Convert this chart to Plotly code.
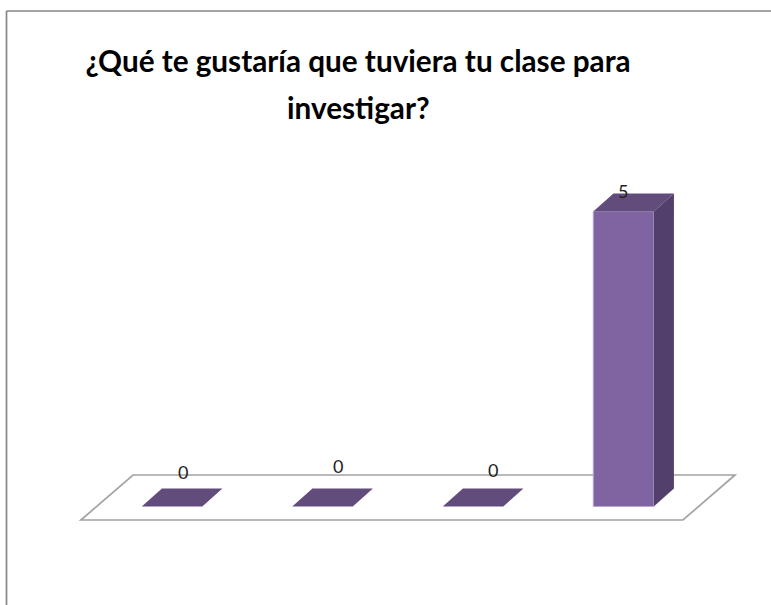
import plotly.graph_objects as go

# Data
categories = [0, 1, 2, 3]
values = [0, 0, 0, 5]
title_lines = ["¿Qué te gustaría que tuviera tu clase para", "investigar?"]

# Styling / pseudo-3D geometry (in axis units)
BAR_W = 0.402
DEPTH_X = 0.134
DEPTH_Y = 0.305
FLOOR_LEFT, FLOOR_RIGHT = -0.605, 3.395
FLOOR_FRONT, FLOOR_BACK = -0.229, 0.534
FLOOR_SKEW = 0.346
LABEL_SHIFT_X = [11, 15, 20, -1]
LABEL_SHIFT_Y = [35, 41, 37, 21]
FRONT, TOP, SIDE = "#8064A2", "#624C7C", "#533F6C"

top_x, top_y, side_x, side_y = [], [], [], []
for c, v in zip(categories, values):
    l, r = c - BAR_W / 2, c + BAR_W / 2
    top_x += [l, r, r + DEPTH_X, l + DEPTH_X, l, None]
    top_y += [v, v, v + DEPTH_Y, v + DEPTH_Y, v, None]
    if v > 0:
        side_x += [r, r + DEPTH_X, r + DEPTH_X, r, r, None]
        side_y += [0, DEPTH_Y, v + DEPTH_Y, v, 0, None]

fig = go.Figure()
fig.add_trace(go.Bar(
    x=categories, y=values, width=BAR_W,
    marker=dict(color=FRONT, line=dict(color="#B8A9CC", width=[1 if v else 0 for v in values])),
    hoverinfo="skip", showlegend=False,
))
fig.add_trace(go.Scatter(x=top_x, y=top_y, mode="lines", fill="toself", fillcolor=TOP,
                         line=dict(width=0, color=TOP), hoverinfo="skip", showlegend=False))
fig.add_trace(go.Scatter(x=side_x, y=side_y, mode="lines", fill="toself", fillcolor=SIDE,
                         line=dict(width=0, color=SIDE), hoverinfo="skip", showlegend=False))

floor_path = (f"M {FLOOR_LEFT} {FLOOR_FRONT} L {FLOOR_LEFT + FLOOR_SKEW} {FLOOR_BACK} "
              f"L {FLOOR_RIGHT + FLOOR_SKEW} {FLOOR_BACK} L {FLOOR_RIGHT} {FLOOR_FRONT} Z")
shapes = [
    dict(type="path", path=floor_path, xref="x", yref="y", layer="below",
         line=dict(color="#A3A3A3", width=1.7), fillcolor="white"),
    dict(type="line", xref="paper", yref="paper", x0=6.5 / 771, x1=1, y0=1 - 11 / 605, y1=1 - 11 / 605,
         line=dict(color="#868686", width=1.7)),
    dict(type="line", xref="paper", yref="paper", x0=6.5 / 771, x1=6.5 / 771, y0=0, y1=1 - 11 / 605,
         line=dict(color="#868686", width=1.7)),
]

annotations = [
    dict(x=c, y=v, xref="x", yref="y", text=str(v), showarrow=False,
         xshift=sx, yshift=sy, font=dict(family="Lato, Carlito, sans-serif", size=18, color="#222222"))
    for c, v, sx, sy in zip(categories, values, LABEL_SHIFT_X, LABEL_SHIFT_Y)
]
annotations.append(dict(
    x=358 / 771, y=1 - 107 / 605, xref="paper", yref="paper", text=f"<b>{title_lines[1]}</b>",
    showarrow=False, xanchor="center", yanchor="middle",
    font=dict(family="Lato, sans-serif", size=29.7, color="#000000"),
))

fig.update_layout(
    width=771, height=605, margin=dict(l=0, r=0, t=0, b=0),
    paper_bgcolor="white", plot_bgcolor="white",
    title=dict(text=f"<b>{title_lines[0]}</b>", x=358 / 771, xanchor="center", xref="paper",
               y=1 - 62 / 605, yanchor="middle", yref="paper",
               font=dict(family="Lato, sans-serif", size=29.7, color="#000000")),
    xaxis=dict(range=[-172 / 150.5, (771 - 172) / 150.5], visible=False, fixedrange=True),
    yaxis=dict(range=[-98.5 / 59, 506.5 / 59], visible=False, fixedrange=True),
    shapes=shapes, annotations=annotations, showlegend=False,
)
fig.write_html("out.html", config={"displayModeBar": False},
               post_script="document.body.style.margin='0';document.body.style.overflow='hidden';")
